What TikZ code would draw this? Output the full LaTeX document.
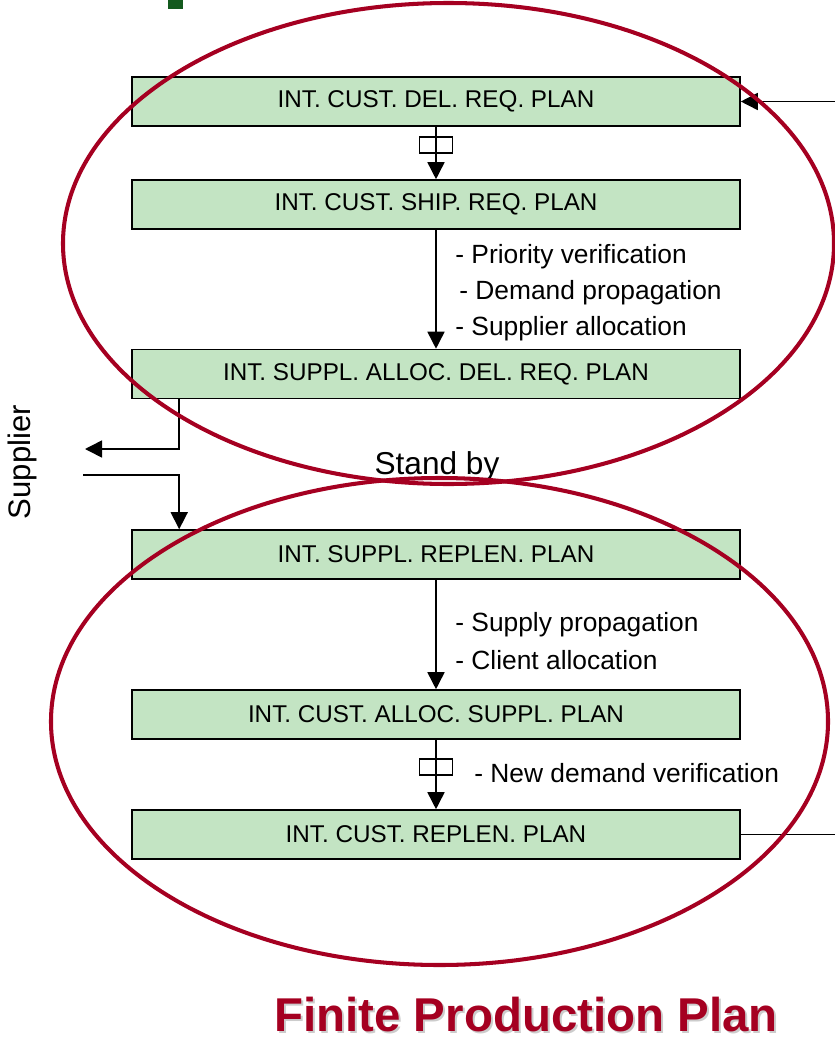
\documentclass[tikz,border=0pt]{standalone}
\usepackage{fontspec}
\setmainfont{Liberation Sans}
\usetikzlibrary{arrows.meta,positioning}

\definecolor{planfill}{HTML}{C3E4C3}
\definecolor{ringred}{HTML}{A50021}
\definecolor{markgreen}{HTML}{135A1E}

\tikzstyle{plan} = [rectangle, minimum width=12.16cm, minimum height=0.98cm, text centered, draw=black, line width=0.9pt, fill=planfill, font=\fontsize{13.8}{16}\selectfont]
\tikzstyle{gate} = [rectangle, draw=black, line width=0.9pt, minimum width=0.66cm, minimum height=0.32cm, inner sep=0pt]
\tikzstyle{arrow} = [line width=0.9pt,-{Triangle[length=0.34cm,width=0.34cm]}]
\tikzstyle{link} = [line width=0.9pt]
\tikzstyle{note} = [anchor=west, inner sep=0pt, font=\fontsize{15}{18}\selectfont]
\tikzstyle{ring} = [draw=ringred, line width=2.3pt]

\begin{document}
\begin{tikzpicture}
        \useasboundingbox (0,0) rectangle (16.68,-20.84);
        \fill[markgreen] (3.36,0) rectangle (3.66,-0.18);

        \node (delreq) [plan] at (8.72,-2.03) {INT. CUST. DEL. REQ. PLAN};
        \node (shipreq) [plan, below of=delreq, node distance=2.06cm] {INT. CUST. SHIP. REQ. PLAN};
        \node (allocreq) [plan, below of=shipreq, node distance=3.39cm] {INT. SUPPL. ALLOC. DEL. REQ. PLAN};
        \node (replen) [plan, below of=allocreq, node distance=3.61cm] {INT. SUPPL. REPLEN. PLAN};
        \node (allocsup) [plan, below of=replen, node distance=3.2cm] {INT. CUST. ALLOC. SUPPL. PLAN};
        \node (custrep) [plan, below of=allocsup, node distance=2.4cm] {INT. CUST. REPLEN. PLAN};

        \draw [arrow] (delreq) -- node[gate, pos=0.35] {} (shipreq);
        \draw [arrow] (shipreq) -- (allocreq);
        \draw [arrow] (replen) -- (allocsup);
        \draw [arrow] (allocsup) -- node[gate, pos=0.39] {} (custrep);

        \node (prio) [note] at (9.1,-5.13) {- Priority verification};
        \node (dprop) [note] at (9.18,-5.85) {- Demand propagation};
        \node (salloc) [note] at (9.1,-6.57) {- Supplier allocation};
        \node (sprop) [note] at (9.1,-12.49) {- Supply propagation};
        \node (calloc) [note] at (9.1,-13.2) {- Client allocation};
        \node (newdem) [note] at (9.48,-15.47) {- New demand verification};

        % in and out on the right
        \coordinate [right=1.88cm of delreq.east] (inR);
        \coordinate [right=1.88cm of custrep.east] (outR);
        \draw [arrow] (inR) -- (delreq);
        \draw [link] (custrep) -- (outR);

        % supplier loop
        \coordinate (supout) at (1.7,-8.98);
        \coordinate (supin) at (1.66,-9.5);
        \draw [arrow] ([xshift=0.96cm]allocreq.south west) |- (supout);
        \draw [arrow] (supin) -| ([xshift=0.96cm]replen.north west);
        \node (supplier) [rotate=90, font=\fontsize{17.7}{20}\selectfont] at (0.44,-9.24) {Supplier};
        \node (standby) [font=\fontsize{18}{21}\selectfont] at (8.74,-9.33) {Stand by};

        \draw [ring] (8.97,-4.87) ellipse (7.71cm and 4.81cm);
        \draw [ring] (8.79,-14.43) ellipse (7.77cm and 4.87cm);

        \node (titleshadow) [text=black!20, font=\fontsize{27}{32}\selectfont\bfseries] at (10.56,-20.34) {Finite Production Plan};
        \node (title) [text=ringred, font=\fontsize{27}{32}\selectfont\bfseries] at (10.52,-20.3) {Finite Production Plan};
\end{tikzpicture}
\end{document}
